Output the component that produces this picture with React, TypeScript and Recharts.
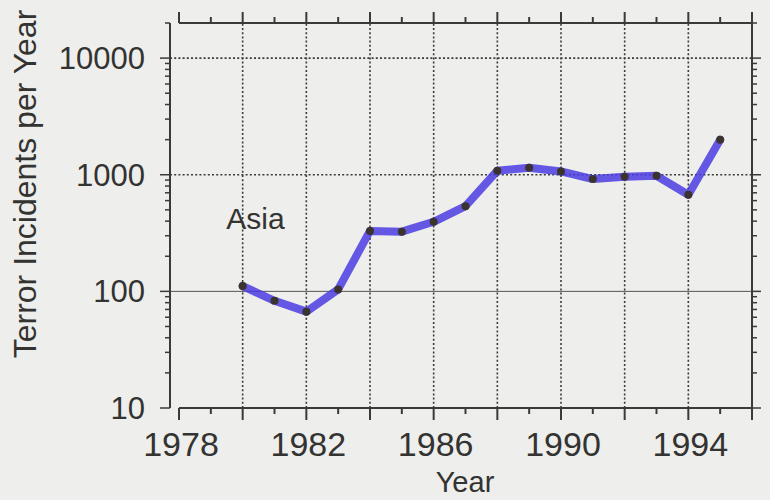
import React from 'react';
import { LineChart, Line, XAxis, YAxis, ReferenceLine, ReferenceDot } from 'recharts';

const years = [1980, 1981, 1982, 1983, 1984, 1985, 1986, 1987, 1988, 1989, 1990, 1991, 1992, 1993, 1994, 1995];
const incidents = [111, 83, 67, 104, 330, 325, 395, 538, 1082, 1150, 1067, 919, 961, 980, 674, 1995];
const yearTicks = [1978, 1979, 1980, 1981, 1982, 1983, 1984, 1985, 1986, 1987, 1988, 1989, 1990, 1991, 1992, 1993, 1994, 1995, 1996];
const labeledYears = [1978, 1982, 1986, 1990, 1994];
const gridYears = [1980, 1982, 1984, 1986, 1988, 1990, 1992, 1994];
const gridValues = [100, 1000, 10000];
const decadeValues = [10, 100, 1000, 10000];
const valueTicks = [
  10, 20, 30, 40, 50, 60, 70, 80, 90,
  100, 200, 300, 400, 500, 600, 700, 800, 900,
  1000, 2000, 3000, 4000, 5000, 6000, 7000, 8000, 9000,
  10000, 20000,
];
const seriesName = 'Asia';
const seriesLabelPos = { year: 1980.4, value: 420 };
const xTitle = 'Year';
const yTitle = 'Terror Incidents per Year';

const data = years.map((y, i) => ({ year: y, incidents: incidents[i] }));

const FONT = '"Liberation Sans", Arial, Helvetica, sans-serif';
const INK = '#333331';
const AXIS = '#3a3a38';

const BottomTick = (props: any) => {
  const { x, y, payload } = props;
  const v = payload.value;
  const major = v % 2 === 0;
  return (
    <g>
      <line x1={x} x2={x} y1={y} y2={y + (major ? 12 : 6)} stroke={AXIS} strokeWidth={2} />
      {labeledYears.includes(v) && (
        <text x={x + 2} y={y + 48} textAnchor="middle" fontSize={34} fontFamily={FONT} fill={INK}>
          {v}
        </text>
      )}
    </g>
  );
};

const TopTick = (props: any) => {
  const { x, y, payload } = props;
  const major = payload.value % 2 === 0;
  return <line x1={x} x2={x} y1={y} y2={y - (major ? 11 : 6)} stroke={AXIS} strokeWidth={2} />;
};

const LeftTick = (props: any) => {
  const { x, y, payload } = props;
  const v = payload.value;
  const major = decadeValues.includes(v);
  return (
    <g>
      <line x1={x - (major ? 10 : 5)} x2={x} y1={y} y2={y} stroke={AXIS} strokeWidth={1.5} />
      {major && (
        <text x={x - 25} y={y} dy={11} textAnchor="end" fontSize={31} fontFamily={FONT} fill={INK}>
          {v}
        </text>
      )}
    </g>
  );
};

const RightTick = (props: any) => {
  const { x, y, payload } = props;
  const major = decadeValues.includes(payload.value);
  return <line x1={x} x2={x + (major ? 9 : 5)} y1={y} y2={y} stroke={AXIS} strokeWidth={1.5} />;
};

const YTitle = () => (
  <text
    x={36}
    y={184}
    transform="rotate(-90 36 184)"
    textAnchor="middle"
    fontSize={32}
    fontFamily={FONT}
    fill={INK}
  >
    {yTitle}
  </text>
);

const XTitle = () => (
  <text x={465} y={492} textAnchor="middle" fontSize={29} fontFamily={FONT} fill={INK}>
    {xTitle}
  </text>
);

const SeriesLabel = (props: any) => {
  const vb = props.viewBox || {};
  const cx = (vb.x ?? 0) + (vb.width ?? 0) / 2;
  const cy = (vb.y ?? 0) + (vb.height ?? 0) / 2;
  return (
    <text x={cx} y={cy} dy={10} textAnchor="middle" fontSize={30} fontFamily={FONT} fill={INK}>
      {seriesName}
    </text>
  );
};

export default function App() {
  return (
    <div style={{ position: 'absolute', left: 0, top: 0, width: 770, height: 500, background: '#eeeeec' }}>
      <LineChart width={770} height={500} data={data} margin={{ top: 3, right: 0, bottom: 0, left: 0 }}>
        <XAxis
          xAxisId="b"
          dataKey="year"
          type="number"
          domain={[1978, 1996]}
          ticks={yearTicks}
          interval={0}
          padding={{ left: 9, right: 0 }}
          height={92}
          axisLine={false}
          tickLine={false}
          tickSize={0}
          tickMargin={0}
          tick={<BottomTick />}
          label={<XTitle />}
        />
        <XAxis
          xAxisId="t"
          orientation="top"
          dataKey="year"
          type="number"
          domain={[1978, 1996]}
          ticks={yearTicks}
          interval={0}
          padding={{ left: 9, right: 0 }}
          height={20}
          axisLine={false}
          tickLine={false}
          tickSize={0}
          tickMargin={0}
          tick={<TopTick />}
        />
        <YAxis
          yAxisId="l"
          scale="log"
          type="number"
          domain={[10, 20000]}
          allowDataOverflow
          ticks={valueTicks}
          interval={0}
          width={170}
          axisLine={{ stroke: AXIS, strokeWidth: 2 }}
          tickLine={false}
          tickSize={0}
          tickMargin={0}
          tick={<LeftTick />}
          label={<YTitle />}
        />
        <YAxis
          yAxisId="r"
          orientation="right"
          scale="log"
          type="number"
          domain={[10, 20000]}
          allowDataOverflow
          ticks={valueTicks}
          interval={0}
          width={18}
          axisLine={{ stroke: AXIS, strokeWidth: 2 }}
          tickLine={false}
          tickSize={0}
          tickMargin={0}
          tick={<RightTick />}
        />
        {gridYears.map((yr) => (
          <ReferenceLine
            key={'gx' + yr}
            xAxisId="b"
            yAxisId="l"
            x={yr}
            stroke="#3a3a38"
            strokeWidth={1.6}
            strokeDasharray="2 2.2"
          />
        ))}
        {gridValues.map((v) => (
          <ReferenceLine
            key={'gy' + v}
            xAxisId="b"
            yAxisId="l"
            y={v}
            stroke={v === 100 ? '#55554f' : '#3a3a38'}
            strokeWidth={v === 100 ? 1 : 1.6}
            strokeDasharray={v === 100 ? undefined : '2 2.2'}
          />
        ))}
        <ReferenceLine
          xAxisId="b"
          yAxisId="l"
          segment={[{ x: 1978, y: 10 }, { x: 1996, y: 10 }]}
          stroke={AXIS}
          strokeWidth={2}
          ifOverflow="visible"
        />
        <ReferenceLine
          xAxisId="b"
          yAxisId="l"
          segment={[{ x: 1978, y: 20000 }, { x: 1996, y: 20000 }]}
          stroke={AXIS}
          strokeWidth={2}
          ifOverflow="visible"
        />
        <ReferenceDot
          xAxisId="b"
          yAxisId="l"
          x={seriesLabelPos.year}
          y={seriesLabelPos.value}
          r={0}
          fill="none"
          stroke="none"
          label={<SeriesLabel />}
        />
        <Line
          xAxisId="b"
          yAxisId="l"
          dataKey="incidents"
          type="linear"
          stroke="#4a3ce2"
          strokeOpacity={0.85}
          strokeWidth={8}
          strokeLinecap="round"
          strokeLinejoin="round"
          dot={{ r: 4, fill: '#3b332e', stroke: 'none', fillOpacity: 1 }}
          isAnimationActive={false}
        />
      </LineChart>
    </div>
  );
}
